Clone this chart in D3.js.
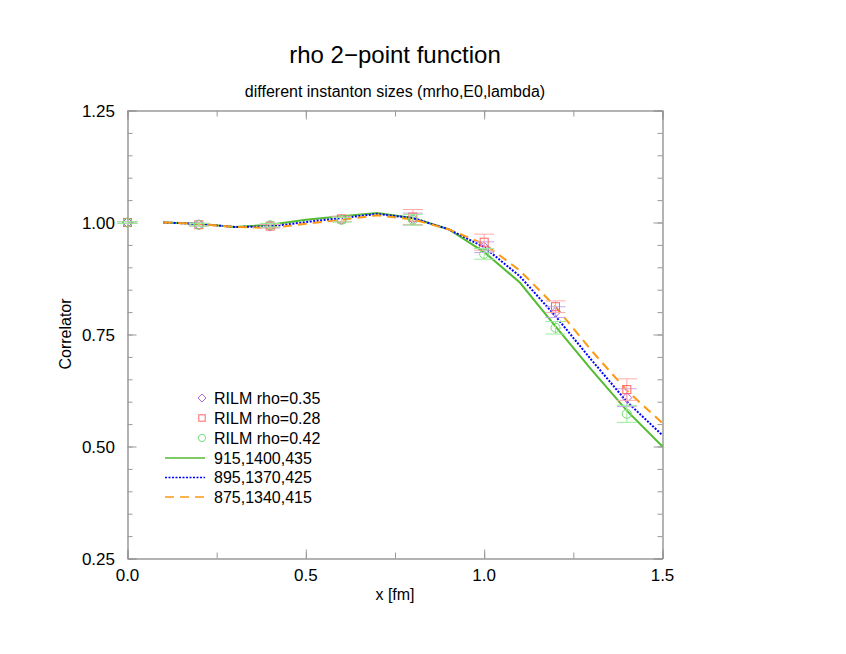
<!DOCTYPE html>
<html><head><meta charset="utf-8">
<script src="https://cdn.jsdelivr.net/npm/d3@7"></script>
<style>body{margin:0;background:#fff;}svg{display:block;font-family:"Liberation Sans",Arial,sans-serif;}</style>
</head><body>
<svg id="c" width="846" height="654"></svg>
<script>
const pointX = [0, 0.2, 0.4, 0.6, 0.8, 1.0, 1.2, 1.4];
const rho035 = [1.000, 0.995, 0.992, 1.007, 1.008, 0.945, 0.800, 0.609];
const rho035Err = [0.002, 0.003, 0.004, 0.005, 0.013, 0.012, 0.012, 0.020];
const rho028 = [1.000, 0.995, 0.992, 1.008, 1.012, 0.956, 0.812, 0.627];
const rho028Err = [0.002, 0.003, 0.004, 0.006, 0.017, 0.018, 0.013, 0.024];
const rho042 = [1.000, 0.995, 0.994, 1.006, 1.006, 0.930, 0.765, 0.573];
const rho042Err = [0.002, 0.003, 0.004, 0.005, 0.012, 0.012, 0.014, 0.019];
const lineX = [0.1,0.2,0.3,0.4,0.5,0.6,0.7,0.8,0.9,1.0,1.1,1.2,1.3,1.4,1.5];
const fit915 = [1.000,0.997,0.990,0.995,1.006,1.014,1.021,1.010,0.985,0.934,0.866,0.768,0.672,0.580,0.500];
const fit895 = [1.000,0.997,0.990,0.991,1.001,1.010,1.019,1.010,0.985,0.945,0.880,0.791,0.694,0.600,0.525];
const fit875 = [1.000,0.997,0.990,0.988,0.997,1.006,1.016,1.007,0.985,0.952,0.893,0.812,0.715,0.625,0.552];
const xTicks = [0, 0.5, 1.0, 1.5];
const yTicks = [0.25, 0.50, 0.75, 1.00, 1.25];

const svg = d3.select("#c");
const L = 127.5, R = 662.5, T = 110.5, B = 558.5;
const x = d3.scaleLinear().domain([0, 1.5]).range([L, R]);
const y = d3.scaleLinear().domain([0.25, 1.25]).range([B, T]);
const frame = "#999";

// titles
svg.append("text").attr("x", 395).attr("y", 63).attr("text-anchor", "middle").attr("font-size", 24).text("rho 2\u2212point function");
svg.append("text").attr("x", 395).attr("y", 97).attr("text-anchor", "middle").attr("font-size", 16).text("different instanton sizes (mrho,E0,lambda)");
svg.append("text").attr("x", 395).attr("y", 600).attr("text-anchor", "middle").attr("font-size", 16).text("x [fm]");
svg.append("text").attr("transform", "translate(71,334) rotate(-90)").attr("text-anchor", "middle").attr("font-size", 16).text("Correlator");

// axes
const g = svg.append("g");
const xMinor = d3.range(0, 1.5001, 0.25);
const yMinor = d3.range(0.25, 1.2501, 0.05);
g.append("g").attr("transform", `translate(0,${B})`).call(d3.axisBottom(x).tickValues(xMinor).tickSize(-6).tickFormat(""));
g.append("g").attr("transform", `translate(0,${T})`).call(d3.axisTop(x).tickValues(xMinor).tickSize(-6).tickFormat(""));
g.append("g").attr("transform", `translate(${L},0)`).call(d3.axisLeft(y).tickValues(yMinor).tickSize(-5).tickFormat(""));
g.append("g").attr("transform", `translate(${R},0)`).call(d3.axisRight(y).tickValues(yMinor).tickSize(-5).tickFormat(""));
g.append("g").attr("transform", `translate(${L},0)`).call(d3.axisLeft(y).tickValues(yTicks).tickSize(-9).tickFormat(""));
g.append("g").attr("transform", `translate(${R},0)`).call(d3.axisRight(y).tickValues(yTicks).tickSize(-9).tickFormat(""));
g.append("g").attr("transform", `translate(0,${B})`).call(d3.axisBottom(x).tickValues(xTicks).tickSize(-9).tickFormat(""));
g.append("g").attr("transform", `translate(0,${T})`).call(d3.axisTop(x).tickValues(xTicks).tickSize(-9).tickFormat(""));
g.selectAll("path.domain").attr("stroke", frame);
g.selectAll(".tick line").attr("stroke", frame);

// tick labels
svg.append("g").selectAll("text").data(xTicks).join("text")
  .attr("x", d => x(d)).attr("y", 581).attr("text-anchor", "middle").attr("font-size", 17)
  .text(d => d3.format(".1f")(d));
svg.append("g").selectAll("text").data(yTicks).join("text")
  .attr("x", 115).attr("y", d => y(d) + 6).attr("text-anchor", "end").attr("font-size", 17)
  .text(d => d3.format(".2f")(d));

// lines
const lineGen = d3.line().x((d, i) => x(lineX[i])).y(d => y(d));
const fits = [
  {v: fit915, color: "#55bb33", dash: null, label: "915,1400,435"},
  {v: fit895, color: "#0000ff", dash: "2,1.5", label: "895,1370,425"},
  {v: fit875, color: "#ff9911", dash: "9,6", label: "875,1340,415"}
];
fits.forEach(f => {
  svg.append("path").attr("d", lineGen(f.v)).attr("fill", "none")
    .attr("stroke", f.color).attr("stroke-width", 2)
    .attr("stroke-dasharray", f.dash);
});

// points
const series = [
  {v: rho035, e: rho035Err, color: "#aa66dd", err: "#c8a8ee", shape: "diamond", label: "RILM rho=0.35"},
  {v: rho028, e: rho028Err, color: "#ff6666", err: "#ffaaaa", shape: "square", label: "RILM rho=0.28"},
  {v: rho042, e: rho042Err, color: "#77dd77", err: "#99ee99", shape: "circle", label: "RILM rho=0.42"}
];
function marker(sel, shape, cx, cy, s, color) {
  if (shape === "diamond") {
    sel.append("path").attr("d", `M${cx},${cy - s}L${cx + s},${cy}L${cx},${cy + s}L${cx - s},${cy}Z`)
      .attr("fill", "none").attr("stroke", color).attr("stroke-width", 1);
  } else if (shape === "square") {
    sel.append("rect").attr("x", cx - s * 0.8).attr("y", cy - s * 0.8).attr("width", s * 1.6).attr("height", s * 1.6)
      .attr("fill", "none").attr("stroke", color).attr("stroke-width", 1);
  } else {
    sel.append("circle").attr("cx", cx).attr("cy", cy).attr("r", s * 0.9)
      .attr("fill", "none").attr("stroke", color).attr("stroke-width", 1);
  }
}
series.forEach(s => {
  const gg = svg.append("g");
  pointX.forEach((px, i) => {
    const cx = x(px), cy = y(s.v[i]);
    const y1 = y(s.v[i] + s.e[i]), y2 = y(s.v[i] - s.e[i]);
    gg.append("line").attr("x1", cx).attr("x2", cx).attr("y1", y1).attr("y2", y2).attr("stroke", s.err).attr("stroke-width", 1);
    [y1, y2].forEach(yy => gg.append("line").attr("x1", cx - 10).attr("x2", cx + 10).attr("y1", yy).attr("y2", yy).attr("stroke", s.err).attr("stroke-width", 1));
    marker(gg, s.shape, cx, cy, 5, s.color);
  });
});

// legend
const leg = svg.append("g");
series.forEach((s, i) => {
  const yy = 398 + i * 20;
  marker(leg, s.shape, 202, yy, 4, s.color);
  leg.append("text").attr("x", 214).attr("y", yy + 5.5).attr("font-size", 16).text(s.label);
});
fits.forEach((f, i) => {
  const yy = 458 + i * 19.5;
  leg.append("line").attr("x1", 165).attr("x2", 205).attr("y1", yy).attr("y2", yy)
    .attr("stroke", f.color).attr("stroke-width", 1.5).attr("stroke-dasharray", f.dash);
  leg.append("text").attr("x", 214).attr("y", yy + 5.5).attr("font-size", 16).text(f.label);
});
</script>
</body></html>
